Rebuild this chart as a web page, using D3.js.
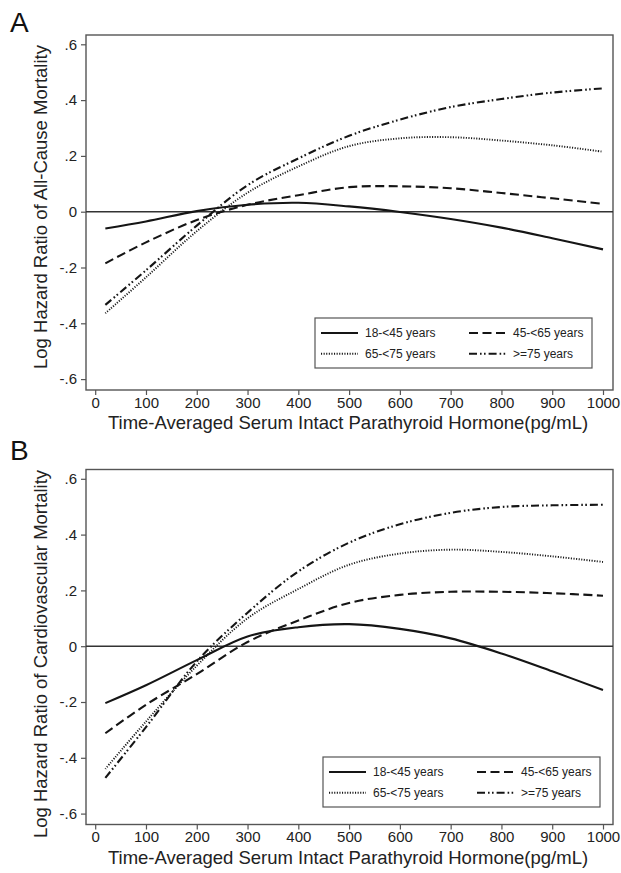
<!DOCTYPE html>
<html><head><meta charset="utf-8">
<script src="https://cdn.jsdelivr.net/npm/d3@7"></script>
<style>body{margin:0;background:#fff}svg{display:block}text{font-family:"Liberation Sans",Arial,sans-serif}</style>
</head><body>
<svg id="c" width="621" height="873"></svg>
<script>
const xValues = [20,100,200,300,400,500,600,700,800,900,1000];
const seriesNames = ["18-<45 years","45-<65 years","65-<75 years",">=75 years"];
const allCause18 = [-0.060,-0.035,0.002,0.025,0.032,0.019,-0.001,-0.026,-0.057,-0.095,-0.135];
const allCause45 = [-0.185,-0.110,-0.030,0.025,0.059,0.088,0.091,0.084,0.067,0.048,0.028];
const allCause65 = [-0.364,-0.235,-0.070,0.068,0.162,0.235,0.263,0.267,0.255,0.238,0.215];
const allCause75 = [-0.334,-0.210,-0.050,0.095,0.191,0.272,0.330,0.375,0.404,0.427,0.442];
const cardio18 = [-0.204,-0.140,-0.050,0.035,0.068,0.079,0.062,0.028,-0.026,-0.090,-0.157];
const cardio45 = [-0.312,-0.210,-0.100,0.015,0.092,0.155,0.184,0.195,0.195,0.190,0.181];
const cardio65 = [-0.440,-0.270,-0.070,0.100,0.205,0.292,0.332,0.346,0.338,0.322,0.302];
const cardio75 = [-0.472,-0.290,-0.055,0.120,0.268,0.371,0.437,0.478,0.499,0.505,0.507];
const xTicks = [0,100,200,300,400,500,600,700,800,900,1000];
const yTicks = [-0.6,-0.4,-0.2,0,0.2,0.4,0.6];
const xTitle = "Time-Averaged Serum Intact Parathyroid Hormone(pg/mL)";

const dashes = [null, "9,4.5", "1.1,1.5", "8,3,1.6,2.4,1.6,3"];
const widths = [2.1, 2.1, 1.9, 2.1];
const ink = "#151515", frame = "#555";

const svg = d3.select("#c");
const x = d3.scaleLinear().domain([0,1000]).range([95.2,603]);
const fmt = v => v === 0 ? "0" : (v < 0 ? "-" : "") + d3.format(".1f")(Math.abs(v)).replace(/^0/, "");

function panel(cfg){
  const off = cfg.off;
  const y = d3.scaleLinear().domain([-0.6,0.6]).range([379.1+off, 44.3+off]);
  const g = svg.append("g");
  const top = 35+off, bot = 390+off, left = 86, right = 613;
  g.append("text").attr("x",10).attr("y",cfg.letterY).attr("font-size",28).attr("fill","#111").text(cfg.letter);
  g.append("rect").attr("x",left).attr("y",top).attr("width",right-left).attr("height",bot-top)
    .attr("fill","none").attr("stroke",frame).attr("stroke-width",1.4);
  const ya = g.append("g").attr("transform",`translate(${left},0)`)
    .call(d3.axisLeft(y).tickValues(yTicks).tickFormat(fmt).tickSize(5).tickPadding(4));
  ya.select(".domain").remove();
  ya.selectAll("line").attr("stroke",frame).attr("stroke-width",1.2);
  ya.selectAll("text").attr("font-size",15).attr("fill","#222").style("font-family","Liberation Sans, Arial, sans-serif");
  const xa = g.append("g").attr("transform",`translate(0,${bot})`)
    .call(d3.axisBottom(x).tickValues(xTicks).tickFormat(d3.format("d")).tickSize(5).tickPadding(2));
  xa.select(".domain").remove();
  xa.selectAll("line").attr("stroke",frame).attr("stroke-width",1.2);
  xa.selectAll("text").attr("font-size",15).attr("fill","#222").style("font-family","Liberation Sans, Arial, sans-serif");
  g.append("text").attr("x",348).attr("y",bot+39).attr("text-anchor","middle")
    .attr("font-size",18.5).attr("fill","#222").text(xTitle);
  g.append("text").attr("transform",`translate(40,${cfg.yTitleC}) rotate(-90)`)
    .attr("text-anchor","middle").attr("dominant-baseline","central").attr("font-size",18.5).attr("fill","#222").text(cfg.yTitle);
  g.append("line").attr("x1",left).attr("x2",right).attr("y1",y(0)).attr("y2",y(0))
    .attr("stroke","#333").attr("stroke-width",1.4);
  const line = d3.line().x((d,i)=>x(xValues[i])).y(d=>y(d)).curve(d3.curveCatmullRom.alpha(0.5));
  cfg.series.forEach((s,i)=>{
    g.append("path").attr("d",line(s)).attr("fill","none").attr("stroke",ink)
      .attr("stroke-width",widths[i]).attr("stroke-dasharray",dashes[i]);
  });
  const L = cfg.legend;
  g.append("rect").attr("x",L.x).attr("y",L.y).attr("width",L.w).attr("height",L.h)
    .attr("fill","#fff").attr("stroke",frame).attr("stroke-width",1.2);
  seriesNames.forEach((name,i)=>{
    const col = i%2, row = Math.floor(i/2);
    const lx = L.x + 6 + col*148, ly = L.y + 15 + row*20.7;
    g.append("line").attr("x1",lx).attr("x2",lx+37).attr("y1",ly).attr("y2",ly)
      .attr("stroke",ink).attr("stroke-width",widths[i]).attr("stroke-dasharray",dashes[i]);
    g.append("text").attr("x",lx+44).attr("y",ly).attr("dominant-baseline","central")
      .attr("font-size",12).attr("fill","#222").text(name);
  });
}

panel({off:0, letter:"A", letterY:32, yTitle:"Log Hazard Ratio of All-Cause Mortality", yTitleC:207,
  series:[allCause18,allCause45,allCause65,allCause75], legend:{x:315,y:318,w:277,h:50}});
panel({off:434.5, letter:"B", letterY:460, yTitle:"Log Hazard Ratio of Cardiovascular Mortality", yTitleC:654,
  series:[cardio18,cardio45,cardio65,cardio75], legend:{x:323,y:757,w:277,h:50}});
</script>
</body></html>
